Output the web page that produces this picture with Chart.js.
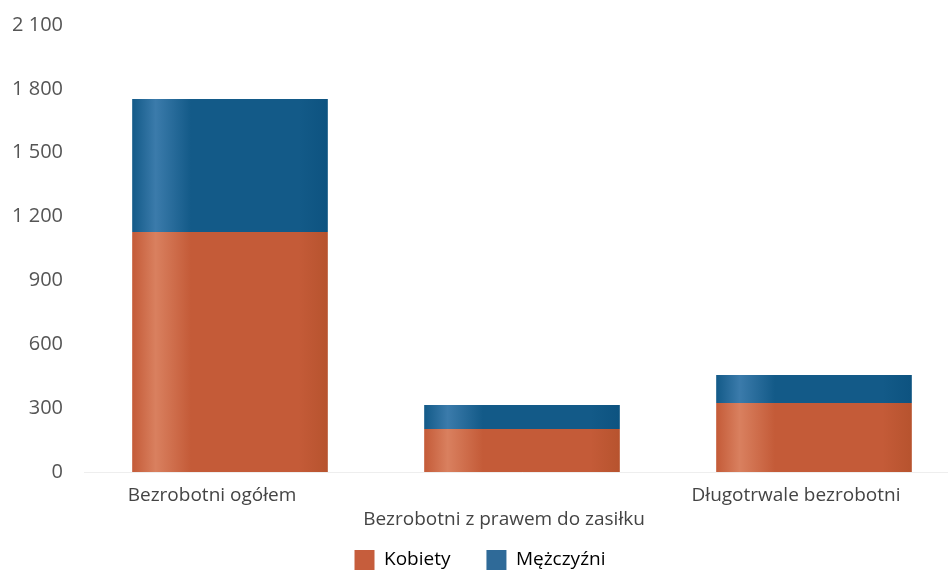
<!DOCTYPE html>
<html>
<head>
<meta charset="utf-8">
<script src="https://cdn.jsdelivr.net/npm/chart.js@4/dist/chart.umd.min.js"></script>
<style>
    html, body { margin: 0; padding: 0; background: #fff; overflow: hidden; }
    #wrap { width: 960px; height: 570px; }
</style>
</head>
<body>
<div id="wrap"><canvas id="chart" width="960" height="570"></canvas></div>
<script>
// Values.
const categories = ['Bezrobotni ogółem', ['', 'Bezrobotni z prawem do zasiłku'], 'Długotrwale bezrobotni'];
const kobiety = [1127, 202, 324];
const mezczyzni = [625, 113, 132];

const Color = {
    orange: '#c65d3c',
    blue: '#2f6a98',
    text: '#555555'
};

// Soft vertical stripes like the original bars.
function barFill(base, light, dark) {
    return (ctx) => {
        const chart = ctx.chart;
        const xScale = chart.scales.x;
        if (!chart.chartArea || !xScale || ctx.dataIndex === undefined) return base;
        const half = xScale.width / chart.data.labels.length * 0.67 / 2;
        const cx = xScale.getPixelForValue(ctx.dataIndex);
        const g = chart.ctx.createLinearGradient(cx - half, 0, cx + half, 0);
        g.addColorStop(0, base);
        g.addColorStop(0.12, light);
        g.addColorStop(0.3, base);
        g.addColorStop(0.85, base);
        g.addColorStop(1, dark);
        return g;
    };
}

// The second category label sits on a lower line; let it run past the axis box.
const noLabelClip = {
    id: 'noLabelClip',
    beforeDraw(chart) {
        chart.scales.x._computeLabelArea = () => undefined;
    }
};

new Chart(document.getElementById('chart').getContext('2d'), {
    type: 'bar',
    data: {
        labels: categories,
        datasets: [
            {
                label: 'Kobiety',
                data: kobiety,
                backgroundColor: barFill('#c45b38', '#d9805f', '#b7532e')
            },
            {
                label: 'Mężczyźni',
                data: mezczyzni,
                backgroundColor: barFill('#135a88', '#3b7bab', '#0d5380')
            }
        ]
    },
    options: {
        responsive: false,
        animation: false,
        layout: { padding: { top: 25, left: 0, right: 0, bottom: -10 } },
        datasets: {
            bar: { categoryPercentage: 1, barPercentage: 0.67 }
        },
        plugins: {
            tooltip: { enabled: false },
            legend: {
                position: 'bottom',
                labels: {
                    color: '#444',
                    boxWidth: 20,
                    boxHeight: 20,
                    padding: 36,
                    font: { family: 'Open Sans', size: 19 },
                    generateLabels: (chart) => chart.data.datasets.map((ds, i) => ({
                        text: ds.label,
                        fillStyle: i === 0 ? Color.orange : Color.blue,
                        strokeStyle: 'transparent',
                        lineWidth: 0,
                        datasetIndex: i
                    }))
                }
            }
        },
        scales: {
            x: {
                stacked: true,
                grid: { display: false },
                border: { display: true, color: '#eeeeee' },
                afterFit: (s) => { s.height = 42; },
                ticks: {
                    color: '#444',
                    maxRotation: 0,
                    autoSkip: false,
                    labelOffset: -18,
                    padding: 4,
                    font: { family: 'Open Sans', size: 19, lineHeight: 1.25 }
                }
            },
            y: {
                stacked: true,
                min: 0,
                max: 2100,
                grid: { display: false },
                border: { display: false },
                afterFit: (s) => {
                    s.width = 84;
                    s.paddingTop = 0;
                    s.paddingBottom = 0;
                },
                ticks: {
                    stepSize: 300,
                    color: Color.text,
                    padding: 13,
                    font: { family: 'Open Sans', size: 20 },
                    callback: (v) => String(v).replace(/\B(?=(\d{3})+(?!\d))/g, ' ')
                }
            }
        }
    },
    plugins: [noLabelClip]
});
</script>
</body>
</html>
